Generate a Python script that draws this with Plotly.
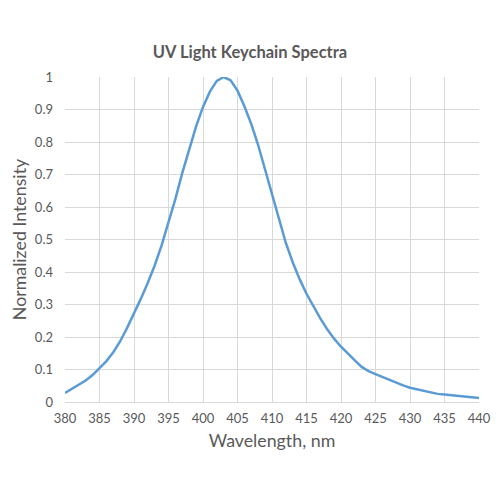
import plotly.graph_objects as go

# spectrum, 1 nm steps
wavelength_nm = list(range(380, 441))
intensity = [
    0.028, 0.040, 0.052, 0.066, 0.083, 0.103, 0.126, 0.153, 0.187, 0.228,
    0.272, 0.318, 0.367, 0.420, 0.482, 0.550, 0.625, 0.705, 0.780, 0.848,
    0.908, 0.955, 0.988, 1.000, 0.990, 0.958, 0.910, 0.855, 0.790, 0.715,
    0.640, 0.562, 0.490, 0.430, 0.378, 0.333, 0.293, 0.257, 0.224, 0.195,
    0.170, 0.148, 0.128, 0.108, 0.095, 0.086, 0.077, 0.068, 0.058, 0.051,
    0.044, 0.039, 0.034, 0.029, 0.025, 0.023, 0.021, 0.018, 0.016, 0.014,
    0.012,
]

TEXT = "#595959"
GRID = "#d9d9d9"
FONT = "Lato, Open Sans, sans-serif"

fig = go.Figure()
fig.add_trace(
    go.Scatter(
        x=wavelength_nm,
        y=intensity,
        mode="lines",
        line=dict(color="#5b9bd5", width=2.5),
        showlegend=False,
        hoverinfo="skip",
    )
)

# the page body adds ~8px on top/left, so margins are shifted to compensate
fig.update_layout(
    width=500,
    height=500,
    margin=dict(l=57, r=29, t=69, b=106, autoexpand=False),
    paper_bgcolor="white",
    plot_bgcolor="white",
    font=dict(family=FONT, color=TEXT, size=13),
    title=dict(
        text="<b>UV Light Keychain Spectra</b>",
        x=0.484,
        xanchor="center",
        y=0.912,
        yanchor="middle",
        font=dict(size=16.5, color=TEXT, family=FONT),
    ),
)

fig.update_xaxes(
    range=[380, 440],
    tick0=380,
    dtick=5,
    showgrid=True,
    gridcolor=GRID,
    gridwidth=1,
    zeroline=False,
    showline=True,
    linecolor=GRID,
    ticks="",
    ticklabelstandoff=4,
    title=dict(text="Wavelength, nm", font=dict(size=17.8, color=TEXT), standoff=9),
)

fig.update_yaxes(
    range=[0, 1],
    tick0=0,
    dtick=0.1,
    showgrid=True,
    gridcolor=GRID,
    gridwidth=1,
    zeroline=False,
    ticks="",
    ticklabelstandoff=11,
    title=dict(text="Normalized Intensity", font=dict(size=17.8, color=TEXT), standoff=4),
)

fig.write_html("out.html")
